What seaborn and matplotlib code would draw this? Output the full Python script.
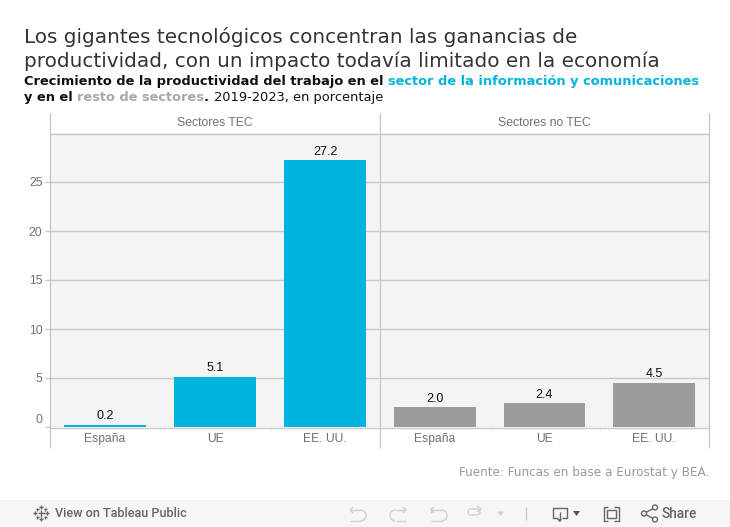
import pandas as pd
import matplotlib.pyplot as plt
from matplotlib.lines import Line2D
from matplotlib.patches import Rectangle, Circle, Arc, Polygon, FancyBboxPatch
import seaborn as sns

# Data
paises = ['España', 'UE', 'EE. UU.']
valores_tec = [0.2, 5.1, 27.2]
valores_no_tec = [2.0, 2.4, 4.5]
paneles = ['Sectores TEC', 'Sectores no TEC']
y_ticks = [0, 5, 10, 15, 20, 25]
y_labels = ['', '5', '10', '15', '20', '25']

W, H = 730, 527
AZUL = '#00b4de'
GRIS = '#9c9c9c'
LINEA = '#c8c8c8'
TEXTO = '#707070'
ICONO = '#666666'
ICONO_OFF = '#d0d0d0'

sns.set_theme(style='white')
plt.rcParams['font.family'] = 'DejaVu Sans'

fig = plt.figure(figsize=(W / 100, H / 100), dpi=100)


def px_x(x):
    return x / W


def px_y(y):
    return 1 - y / H


def linea(x0, y0, x1, y1, color=LINEA, lw=1.0):
    fig.add_artist(Line2D([px_x(x0), px_x(x1)], [px_y(y0), px_y(y1)], color=color, lw=lw,
                          transform=fig.transFigure, solid_capstyle='butt'))


# Panels
df_tec = pd.DataFrame({'pais': paises, 'valor': valores_tec})
df_no_tec = pd.DataFrame({'pais': paises, 'valor': valores_no_tec})
bordes = [(50, 380), (380, 709)]

for i, (df, color) in enumerate([(df_tec, AZUL), (df_no_tec, GRIS)]):
    x0, x1 = bordes[i]
    ax = fig.add_axes([px_x(x0), px_y(427), (x1 - x0) / W, 294 / H])
    ax.set_facecolor('#f4f4f4')
    sns.barplot(data=df, x='pais', y='valor', color=color, width=0.745, saturation=1, linewidth=0, ax=ax, zorder=3)
    ax.set_xlim(-0.5, 2.5)
    ax.set_ylim(0, 30)
    ax.set_xlabel('')
    ax.set_ylabel('')
    ax.set_yticks(y_ticks)
    ax.yaxis.grid(True, color=LINEA, lw=1.0, zorder=1)
    ax.set_axisbelow(True)
    ax.xaxis.grid(False)
    for s in ax.spines.values():
        s.set_visible(False)
    ax.tick_params(axis='x', length=0, pad=4, labelsize=8.7, labelcolor=TEXTO)
    for t in ax.get_xticklabels():
        t.set_family('Liberation Sans')
    ax.bar_label(ax.containers[0], fmt='%.1f', padding=2, fontsize=9, color='#111111',
                 family='Liberation Sans', zorder=5)
    if i == 0:
        ax.set_yticklabels(y_labels)
        ax.tick_params(axis='y', length=3.6, width=1, color=LINEA, pad=1.8, labelsize=8.8, labelcolor=TEXTO, left=True)
        for t in ax.get_yticklabels():
            t.set_family('Liberation Sans')
        # Tableau lifts the zero label above its tick
        ax.annotate('0', (0, 0), xycoords=('axes fraction', 'data'), xytext=(-5.4, 5), textcoords='offset points',
                    ha='right', va='center', fontsize=8.8, color=TEXTO, family='Liberation Sans',
                    annotation_clip=False)
    else:
        ax.tick_params(axis='y', length=0, labelleft=False)
    fig.text(px_x((x0 + x1) / 2), px_y(122.5), paneles[i], ha='center', va='center', fontsize=8.8,
             color=TEXTO, family='Liberation Sans')
    # small dividers under the axis
    for k in [1, 2]:
        linea(x0 + 110 * k, 427, x0 + 110 * k, 431, color='#eeeeee')

# Frame lines
for x in [50, 380, 709]:
    linea(x, 113, x, 448)
linea(50, 133.5, 709, 133.5)
linea(50, 427.5, 709, 427.5)

# Title
fig.text(px_x(24), px_y(37), 'Los gigantes tecnológicos concentran las ganancias de', fontsize=14.45,
         color='#333333', va='center', ha='left')
fig.text(px_x(24), px_y(61.5), 'productividad, con un impacto todavía limitado en la economía', fontsize=14.45,
         color='#333333', va='center', ha='left')


def texto_rico(x, y, partes):
    # consecutive pieces of text, each placed after the last one
    r = fig.canvas.get_renderer()
    for txt, color, peso in partes:
        t = fig.text(px_x(x), px_y(y), txt, fontsize=9.35, color=color, fontweight=peso, va='baseline', ha='left')
        x = t.get_window_extent(r).x1


texto_rico(24, 85.5, [('Crecimiento de la productividad del trabajo en el ', '#111111', 'bold'),
                      ('sector de la información y comunicaciones', AZUL, 'bold')])
texto_rico(24, 101, [('y en el ', '#111111', 'bold'),
                     ('resto de sectores', '#a8a8a8', 'bold'),
                     ('. ', '#111111', 'bold'),
                     ('2019-2023, en porcentaje', '#111111', 'normal')])

# Source
fig.text(px_x(709.5), px_y(472.5), 'Fuente: Funcas en base a Eurostat y BEA.', fontsize=8.65, color='#999999',
         ha='right', va='center')

# Tableau toolbar, drawn on an overlay in pixel coordinates
fig.add_artist(Rectangle((0, 0), 1, 27 / H, transform=fig.transFigure, color='#f6f6f6', lw=0))
tb = fig.add_axes([0, 0, 1, 1], zorder=10)
tb.set_xlim(0, W)
tb.set_ylim(H, 0)
tb.axis('off')
tb.patch.set_alpha(0)

tb.text(55, 513.5, 'View on Tableau Public', fontsize=9.1, color=ICONO, fontweight='medium',
        family='Roboto', va='center', ha='left')
tb.text(662, 513.5, 'Share', fontsize=9.8, color=ICONO, fontweight='medium',
        family='Roboto', va='center', ha='left')


def trazo(xs, ys, color=ICONO, lw=1.0):
    tb.plot(xs, ys, color=color, lw=lw, solid_capstyle='butt')


# Tableau logo
for cx, cy, d in [(41, 513, 7), (35, 513, 4), (47, 513, 4), (41, 507, 4), (41, 519, 4),
                  (37, 509, 3), (45, 509, 3), (37, 517, 3), (45, 517, 3)]:
    trazo([cx - d / 2, cx + d / 2], [cy, cy], lw=1)
    trazo([cx, cx], [cy - d / 2, cy + d / 2], lw=1)


def vuelta(x0, x1, izquierda=True):
    # undo/redo style arrow
    r = 5.5
    y0, y1 = 510, 521
    if izquierda:
        trazo([x0, x1 - r], [y0, y0], ICONO_OFF)
        trazo([x0, x1 - r], [y1, y1], ICONO_OFF)
        tb.add_patch(Arc((x1 - r, (y0 + y1) / 2), 2 * r, 2 * r, theta1=-90, theta2=90, color=ICONO_OFF, lw=1))
        trazo([x0 + 3, x0, x0 + 3], [y0 - 3, y0, y0 + 3], ICONO_OFF)
    else:
        trazo([x0 + r, x1], [y0, y0], ICONO_OFF)
        trazo([x0 + r, x1], [y1, y1], ICONO_OFF)
        tb.add_patch(Arc((x0 + r, (y0 + y1) / 2), 2 * r, 2 * r, theta1=90, theta2=270, color=ICONO_OFF, lw=1))
        trazo([x1 - 3, x1, x1 - 3], [y0 - 3, y0, y0 + 3], ICONO_OFF)


vuelta(350, 366, True)
vuelta(390, 406, False)
vuelta(431, 447, True)
trazo([430.5, 430.5], [507, 513], ICONO_OFF)
tb.add_patch(FancyBboxPatch((468, 509), 12, 6, boxstyle='round,pad=0,rounding_size=3', fill=False, ec=ICONO_OFF, lw=1))
trazo([477, 481, 477], [506, 509, 512], ICONO_OFF)
tb.add_patch(Polygon([(497, 511.5), (504, 511.5), (500.5, 516)], fc=ICONO_OFF, lw=0))
trazo([525.5, 525.5], [507, 520], '#cccccc')

# Download icon
trazo([558, 552.5, 552.5, 567, 567, 562], [518, 518, 507.5, 507.5, 518, 518])
trazo([559.5, 559.5], [512, 521])
tb.add_patch(Polygon([(557, 519), (562, 519), (559.5, 522)], fc=ICONO, lw=0))
tb.add_patch(Polygon([(573, 511), (580, 511), (576.5, 516)], fc='#555555', lw=0))

# Fullscreen icon
trazo([608, 603.5, 603.5, 608], [507, 507, 521, 521])
trazo([614, 618.5, 618.5, 614], [507, 507, 521, 521])
tb.add_patch(Rectangle((606.5, 510), 9, 8, fill=False, ec=ICONO, lw=1))

# Share icon
for cx, cy in [(655, 507.5), (655, 519.5)]:
    trazo([644, cx], [513.5, cy])
for cx, cy in [(644, 513.5), (655, 507.5), (655, 519.5)]:
    tb.add_patch(Circle((cx, cy), 2.5, fc='#f6f6f6', ec=ICONO, lw=1, zorder=5))

fig.savefig('out.png', dpi=100)
